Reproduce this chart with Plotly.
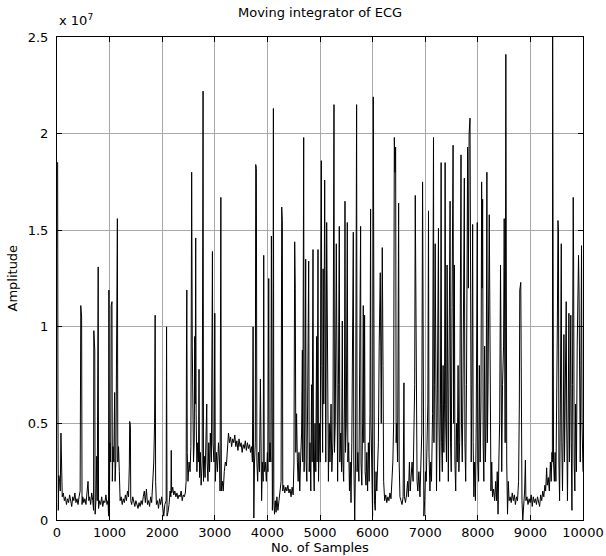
import plotly.graph_objects as go

# Sample index (No. of Samples) and amplitude in units of 1e7
sample_idx = [
0,12,18,25,35,50,62,75,85,100,120,140,160,180,200,220,240,260,280,300,320,340,360,380,400,420,440,452,468,476,490,510,530,550,570,590,605,620,640,660,680,695,700,718,725,740,755,765,783,790,810,830,850,870,890,910,930,950,970,980,987,995,
1005,1020,1030,1045,1052,1065,1080,1096,1105,1120,1134,1148,1156,1170,1185,1200,1220,1240,1260,1280,1300,1320,1340,1360,1375,1382,1395,1402,1420,1440,1460,1480,1500,1520,1540,1560,1580,1600,1620,1640,1660,1680,1700,1720,1740,1760,1780,1800,1820,1840,1855,1866,1875,1890,1910,1930,1950,1970,1990,
2010,2030,2050,2075,2083,2092,2110,2130,2150,2165,2172,2180,2200,2220,2240,2260,2280,2300,2320,2340,2360,2380,2400,2420,2440,2455,2462,2468,2476,2490,2510,2530,2545,2560,2572,2580,2595,2610,2618,2628,2637,2645,2660,2675,2690,2700,2710,2725,2740,2760,2777,2785,2800,2815,2830,2847,2855,2870,2885,2900,2915,2935,2955,2965,2985,
3000,3010,3030,3050,3070,3090,3100,3115,3125,3145,3160,3180,3200,3220,3240,3260,3280,3300,3320,3340,3360,3380,3400,3420,3440,3460,3480,3500,3520,3540,3560,3580,3600,3620,3640,3660,3680,3700,3715,3728,3735,3742,3755,3770,3778,3790,3800,3815,3830,3850,3867,3875,3890,3905,3920,3930,3940,3960,3980,
4000,4010,4025,4035,4050,4065,4076,4085,4095,4105,4114,4122,4135,4150,4165,4180,4200,4220,4240,4260,4272,4284,4292,4310,4330,4350,4370,4390,4410,4430,4450,4470,4490,4505,4519,4530,4540,4555,4570,4585,4600,4615,4630,4650,4665,4672,4690,4698,4712,4728,4736,4750,4765,4785,4795,4810,4825,4840,4850,4867,4877,4890,4905,4920,4935,4945,4962,4972,4990,
5005,5015,5025,5035,5050,5060,5072,5089,5100,5110,5127,5135,5145,5160,5175,5190,5210,5225,5245,5266,5275,5290,5310,5320,5335,5350,5367,5377,5395,5410,5424,5435,5450,5465,5475,5485,5500,5519,5530,5545,5560,5575,5590,5605,5620,5633,5643,5660,5675,5696,5705,5720,5740,5755,5772,5780,5795,5810,5823,5833,5848,5858,5875,5890,5905,5920,5935,5950,5962,5970,5985,
6000,6013,6022,6035,6050,6065,6080,6095,6110,6125,6146,6165,6184,6198,6210,6230,6250,6270,6290,6310,6330,6350,6370,6385,6400,6413,6425,6438,6448,6460,6475,6495,6505,6520,6540,6560,6580,6596,6605,6625,6645,6665,6680,6700,6715,6735,6750,6770,6790,6800,6811,6820,6830,6845,6860,6880,6900,6920,6935,6950,6960,6975,6990,
7005,7020,7035,7050,7063,7072,7090,7105,7120,7140,7158,7166,7175,7190,7200,7215,7230,7252,7262,7275,7290,7303,7312,7325,7340,7355,7367,7379,7390,7405,7416,7425,7440,7455,7473,7482,7495,7510,7530,7540,7555,7565,7580,7595,7610,7625,7640,7655,7668,7681,7690,7705,7720,7744,7755,7770,7785,7807,7820,7835,7852,7862,7875,7888,7902,7912,7925,7940,7955,7970,7990,
8000,8015,8030,8045,8060,8073,8082,8092,8102,8115,8130,8145,8158,8173,8182,8195,8218,8228,8238,8250,8265,8280,8300,8320,8340,8355,8370,8385,8400,8415,8432,8442,8455,8470,8490,8502,8512,8520,8533,8540,8550,8565,8580,8595,8615,8635,8655,8675,8695,8715,8735,8755,8775,8790,8798,8817,8825,8840,8855,8870,8890,8905,8915,8935,8955,8975,8995,
9015,9035,9055,9075,9095,9115,9135,9155,9175,9195,9215,9235,9255,9275,9290,9309,9320,9340,9360,9380,9395,9410,9418,9423,9428,9440,9455,9470,9485,9500,9512,9524,9533,9542,9555,9570,9587,9597,9610,9625,9637,9648,9660,9681,9690,9705,9720,9732,9742,9755,9768,9777,9790,9800,9814,9822,9832,9845,9860,9875,9890,9915,9925,9935,9948,9960,9972,9982,9992,10000]

amplitude_e7 = [
1.85,1.85,0.6,0.05,0.23,0.2,0.15,0.45,0.17,0.12,0.14,0.1,0.12,0.08,0.11,0.09,0.13,0.1,0.07,0.12,0.1,0.14,0.09,0.11,0.08,0.12,0.15,1.11,1.05,0.08,0.12,0.09,0.11,0.08,0.13,0.2,0.1,0.12,0.08,0.14,0.1,0.05,0.98,0.88,0.03,0.1,0.33,0.1,1.31,0.06,0.1,0.08,0.12,0.07,0.1,0.09,0.13,0.08,0.1,0.02,1.19,0.02,
0.4,0.3,1.11,1.13,0.2,0.38,0.3,0.66,0.2,0.32,1.53,1.56,0.3,0.38,0.25,0.1,0.12,0.08,0.11,0.09,0.13,0.1,0.15,0.12,0.28,0.51,0.49,0.1,0.08,0.12,0.09,0.07,0.1,0.08,0.06,0.09,0.07,0.1,0.08,0.12,0.15,0.09,0.16,0.08,0.1,0.07,0.12,0.09,0.2,0.3,0.5,1.06,0.2,0.08,0.1,0.06,0.11,0.08,0.12,
0.05,0.02,0.08,0.1,1.0,0.02,0.04,0.08,0.15,0.12,0.36,0.14,0.17,0.13,0.15,0.12,0.14,0.11,0.13,0.12,0.15,0.1,0.13,0.12,0.14,0.2,0.92,1.19,0.35,0.2,0.3,0.25,0.38,1.8,0.9,0.45,0.3,0.42,0.95,0.6,1.46,0.55,0.25,0.4,0.3,0.78,0.22,0.35,0.18,0.3,2.22,0.2,0.33,0.22,0.38,0.6,0.3,0.2,0.4,0.25,0.45,0.3,1.39,0.4,0.3,
1.07,0.2,0.35,0.25,0.4,0.3,0.15,1.67,0.15,0.2,0.15,0.25,0.3,0.28,0.35,0.45,0.4,0.43,0.38,0.42,0.4,0.44,0.38,0.41,0.36,0.42,0.38,0.4,0.35,0.39,0.37,0.41,0.36,0.4,0.37,0.39,0.35,0.38,0.3,1.0,0.5,0.01,0.3,0.4,1.84,1.82,0.3,0.2,0.35,0.25,0.73,0.2,0.1,0.3,0.2,1.37,0.25,0.3,0.2,
0.35,0.25,1.25,0.3,0.4,0.3,1.47,0.2,0.05,0.3,2.13,0.1,0.03,0.1,0.04,0.12,0.05,0.1,0.15,0.2,1.62,1.55,0.15,0.18,0.14,0.17,0.15,0.18,0.14,0.16,0.12,0.17,0.13,0.3,1.44,1.2,0.35,0.55,0.3,0.2,0.35,0.15,0.3,0.45,0.88,0.3,1.98,0.25,0.5,1.35,0.3,0.2,0.6,1.34,0.25,0.4,0.15,0.7,0.3,1.4,0.3,0.15,0.5,0.25,0.95,0.3,1.4,0.2,0.5,
0.3,1.2,1.86,0.8,0.35,1.3,0.6,1.76,0.7,0.3,1.54,1.18,0.4,0.2,0.5,0.3,0.6,0.25,0.4,2.15,0.35,0.5,1.43,0.4,0.2,0.7,1.52,0.3,0.45,0.25,1.03,0.3,0.2,0.6,1.65,0.35,0.5,1.54,0.3,0.4,0.15,0.3,0.09,0.4,0.8,1.49,0.3,0.0,0.3,2.15,0.25,0.35,0.2,0.9,1.52,0.3,0.18,0.5,1.11,0.4,1.06,0.25,0.18,0.35,0.15,0.4,0.2,0.55,1.61,0.5,0.08,
0.02,2.19,0.9,0.1,0.05,0.25,0.15,0.3,0.4,0.9,1.28,0.5,1.41,0.8,0.2,0.1,0.13,0.09,0.12,0.1,0.14,0.11,0.2,0.3,0.5,1.98,1.8,1.93,0.4,0.5,0.3,1.64,0.3,0.12,0.1,0.08,0.12,0.71,0.12,0.09,0.13,0.2,0.12,0.3,0.15,0.22,0.3,0.2,0.5,0.7,1.68,1.12,0.35,0.2,0.15,0.25,0.12,0.3,0.45,1.75,0.6,0.02,0.1,
0.25,0.2,0.35,0.6,1.6,0.35,0.15,0.3,0.2,0.55,1.98,0.4,0.7,1.43,0.3,0.15,0.6,1.51,0.5,0.2,0.6,1.85,0.4,0.25,0.8,0.35,0.6,1.85,0.5,0.3,1.32,0.35,0.2,0.9,1.65,0.4,0.25,1.1,1.94,0.5,1.32,0.3,0.15,0.5,0.3,0.8,0.25,0.4,0.9,1.89,0.5,0.3,0.75,1.77,0.4,0.2,0.7,1.93,1.2,2.0,2.08,0.6,0.3,0.7,1.53,0.4,0.12,0.3,0.1,0.5,1.54,
0.3,0.2,0.8,0.3,0.6,1.75,1.2,1.66,0.4,0.2,0.9,0.3,0.5,1.8,0.4,0.7,1.58,0.95,0.3,0.15,0.3,0.12,0.16,0.1,0.2,0.1,0.25,0.03,0.3,0.5,1.32,0.4,0.25,0.7,0.9,1.56,0.6,0.4,2.41,1.47,0.3,0.03,0.2,0.1,0.12,0.09,0.14,0.1,0.13,0.08,0.12,0.1,0.2,0.6,1.19,1.23,0.4,0.1,0.0,0.08,0.15,0.31,0.1,0.12,0.08,0.11,0.09,
0.13,0.07,0.12,0.09,0.11,0.08,0.12,0.1,0.07,0.13,0.1,0.15,0.12,0.18,0.15,0.27,0.18,0.22,0.15,0.3,0.2,0.35,0.3,2.5,0.4,0.3,0.2,0.35,0.2,0.5,1.0,1.55,1.5,0.3,0.1,0.6,1.43,0.4,0.15,0.5,0.96,0.3,0.7,1.13,0.5,0.1,0.6,1.07,0.3,0.8,1.06,0.4,0.05,0.7,1.67,1.32,0.3,0.15,0.6,0.25,0.9,1.37,1.18,0.4,0.3,0.8,1.42,0.5,0.3,0.25]

x_ticks = [0, 1000, 2000, 3000, 4000, 5000, 6000, 7000, 8000, 9000, 10000]
x_tick_labels = ["0", "1000", "2000", "3000", "4000", "5000", "6000", "7000", "8000", "9000", "10000"]
y_ticks = [0, 0.5, 1, 1.5, 2, 2.5]
y_tick_labels = ["0", "0.5", "1", "1.5", "2", "2.5"]

FONT = "DejaVu Sans, Liberation Sans, Arial, sans-serif"

fig = go.Figure()
fig.add_trace(go.Scatter(x=sample_idx, y=amplitude_e7, mode="lines",
                         line=dict(color="black", width=1), hoverinfo="skip",
                         showlegend=False))

axis_common = dict(showline=True, linecolor="black", linewidth=1, mirror="ticks",
                   ticks="inside", ticklen=5, tickcolor="black",
                   showgrid=True, gridcolor="#a8a8a8", gridwidth=1, automargin=False,
                   zeroline=False, tickfont=dict(family=FONT, size=13, color="black"))

fig.update_layout(
    width=606, height=556,
    margin=dict(l=57, r=23, t=37, b=36),
    paper_bgcolor="white", plot_bgcolor="white",
    xaxis=dict(range=[0, 10000], tickvals=x_ticks, ticktext=x_tick_labels, **axis_common),
    yaxis=dict(range=[0, 2.5], tickvals=y_ticks, ticktext=y_tick_labels,
               ticklabelstandoff=5, **axis_common),
    annotations=[
        dict(text="Moving integrator of ECG", xref="paper", yref="paper", x=0.5, y=1.0,
             yshift=25, xanchor="center", yanchor="middle", showarrow=False,
             font=dict(family=FONT, size=13, color="black")),
        dict(text="x 10<sup>7</sup>", xref="paper", yref="paper", x=0, y=1.0,
             yshift=17, xanchor="left", yanchor="middle", showarrow=False,
             font=dict(family=FONT, size=13, color="black")),
        dict(text="No. of Samples", xref="paper", yref="paper", x=0.5, y=0,
             yshift=-27, xanchor="center", yanchor="middle", showarrow=False,
             font=dict(family=FONT, size=13, color="black")),
        dict(text="Amplitude", xref="paper", yref="paper", x=0, y=0.5,
             xshift=-45, xanchor="center", yanchor="middle", textangle=-90, showarrow=False,
             font=dict(family=FONT, size=13, color="black")),
    ],
)

# Remove the default 8 px page margin so the figure sits at the window's top-left corner.
fig.write_html("out.html", config={"displayModeBar": False},
               post_script="document.body.style.margin='0';")
